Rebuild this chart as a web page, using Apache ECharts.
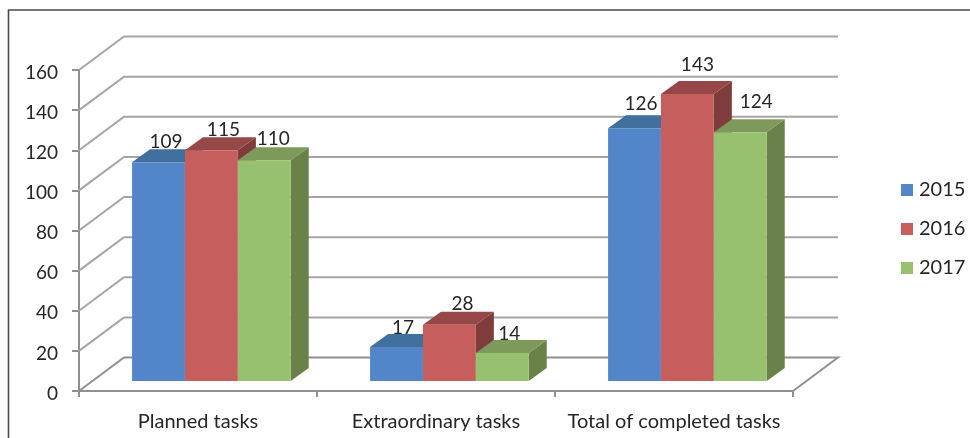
<!DOCTYPE html>
<html>
<head>
<meta charset="utf-8">
<style>
  html, body { margin: 0; padding: 0; background: #fff; }
  #chart { width: 970px; height: 438px; }
</style>
</head>
<body>
<div id="chart"></div>
<script src="https://cdn.jsdelivr.net/npm/echarts@6/dist/echarts.min.js"></script>
<script>
const categories = ["Planned tasks", "Extraordinary tasks", "Total of completed tasks"];
const years = ["2015", "2016", "2017"];
const values2015 = [109, 17, 126];
const values2016 = [115, 28, 143];
const values2017 = [110, 14, 124];
const yTicks = [0, 20, 40, 60, 80, 100, 120, 140, 160];

// look of the fake 3d box
const WALL_DX = 45, WALL_DY = -33.5;
const BAR_DX = 18, BAR_DY = -13;
const BAR_FRONT_DX = 13.4, BAR_FRONT_DY = -10;
const FACES = [
  { front: "#5386C8", top: "#41709F", side: "#3F6A96" },
  { front: "#C65E5E", top: "#964848", side: "#7F3C3C" },
  { front: "#98C16F", top: "#7E9A5A", side: "#6A8149" }
];
// labels are not placed evenly in the original, [dx, dy] from the bar's back top edge
const LABEL_NUDGE = [
  [[7.5, -7], [6.5, -6], [6.5, -11]],
  [[12, -7], [13, -7.5], [10, -16]],
  [[9, -8], [7, -6.5], [16, -17]]
];
const GRID_LINE = "#A3A5A8";
const AXIS_LINE = "#8E9094";
const TEXT = "#262626";
const FONT = "Lato";

function renderBox(seriesIdx, params, api) {
  const cat = api.value(0), val = api.value(1);
  const top = api.coord([cat, val]);
  const base = api.coord([cat, 0]);
  const w = api.size([1, 0])[0] / 4.5;
  const x0 = top[0] + BAR_FRONT_DX + (seriesIdx - 1.5) * w;
  const x1 = x0 + w;
  const yT = top[1] + BAR_FRONT_DY;
  const yB = base[1] + BAR_FRONT_DY;
  const f = FACES[seriesIdx];
  const nudge = LABEL_NUDGE[seriesIdx][cat];
  return {
    type: "group",
    children: [
      { type: "polygon", shape: { points: [[x1, yT], [x1 + BAR_DX, yT + BAR_DY], [x1 + BAR_DX, yB + BAR_DY], [x1, yB]] }, style: { fill: f.side } },
      { type: "polygon", shape: { points: [[x0, yT], [x0 + BAR_DX, yT + BAR_DY], [x1 + BAR_DX, yT + BAR_DY], [x1, yT]] }, style: { fill: f.top } },
      { type: "rect", shape: { x: x0, y: yT, width: w, height: yB - yT }, style: { fill: f.front } },
      {
        type: "text",
        z2: 50,
        style: {
          x: (x0 + x1) / 2 + nudge[0],
          y: yT + BAR_DY + nudge[1],
          text: String(val),
          fill: TEXT,
          font: "19px " + FONT,
          textAlign: "center",
          textVerticalAlign: "middle"
        }
      }
    ]
  };
}

function renderWall(params, api) {
  const v = api.value(0);
  const a = api.coord([0, v]);
  const left = params.coordSys.x;
  const right = left + params.coordSys.width;
  const points = [[left, a[1]], [left + WALL_DX, a[1] + WALL_DY], [right + WALL_DX, a[1] + WALL_DY]];
  if (v === 0) points.push([right, a[1]]);
  return {
    type: "polyline",
    shape: { points: points },
    style: { stroke: v === 0 ? AXIS_LINE : GRID_LINE, lineWidth: 2, fill: null }
  };
}

function boxSeries(name, values, idx) {
  return {
    name: name,
    type: "custom",
    z: 5 + idx,
    clip: false,
    silent: true,
    itemStyle: { color: FACES[idx].front },
    encode: { x: 0, y: 1 },
    data: values.map((v, i) => [i, v]),
    renderItem: (params, api) => renderBox(idx, params, api)
  };
}

const chart = echarts.init(document.getElementById("chart"), null, { renderer: "canvas" });
chart.setOption({
  animation: false,
  backgroundColor: "#fff",
  textStyle: { fontFamily: FONT },
  // frame is cut off on the right and bottom in the original
  graphic: [{
    type: "polyline",
    silent: true,
    shape: { points: [[8.5, 438], [8.5, 10], [970, 10]] },
    style: { stroke: "#4A4A4A", lineWidth: 1.6, fill: null }
  }],
  grid: { left: 79, top: 70, width: 714, height: 321, containLabel: false },
  legend: {
    orient: "vertical",
    left: 901,
    top: 180,
    padding: 0,
    icon: "rect",
    itemWidth: 12,
    itemHeight: 12,
    itemGap: 19,
    data: years,
    selectedMode: false,
    textStyle: { fontFamily: FONT, fontSize: 20, color: TEXT, padding: [0, 0, 0, 1] }
  },
  xAxis: {
    type: "category",
    data: categories,
    axisLine: { lineStyle: { color: AXIS_LINE, width: 2 } },
    axisTick: { show: true, alignWithLabel: false, length: 6, lineStyle: { color: AXIS_LINE, width: 2 } },
    axisLabel: { color: TEXT, fontSize: 20, fontFamily: FONT, margin: 21, interval: 0 },
    splitLine: { show: false }
  },
  yAxis: {
    type: "value",
    min: 0,
    max: 160,
    interval: 20,
    axisLine: { show: true, lineStyle: { color: AXIS_LINE, width: 2 } },
    axisTick: { show: true, length: 7, lineStyle: { color: AXIS_LINE, width: 2 } },
    axisLabel: {
      margin: 21,
      formatter: "{t|{value}}",
      // pushes the numbers down a bit, they sit low on the ticks in the original
      rich: { t: { color: TEXT, fontSize: 19, fontFamily: FONT, padding: [5, 0, 0, 0] } }
    },
    splitLine: { show: false }
  },
  series: [
    {
      type: "custom",
      z: 1,
      clip: false,
      silent: true,
      encode: { y: 0 },
      data: yTicks.map(v => [v]),
      renderItem: renderWall
    },
    boxSeries(years[0], values2015, 0),
    boxSeries(years[1], values2016, 1),
    boxSeries(years[2], values2017, 2)
  ]
});
</script>
</body>
</html>
